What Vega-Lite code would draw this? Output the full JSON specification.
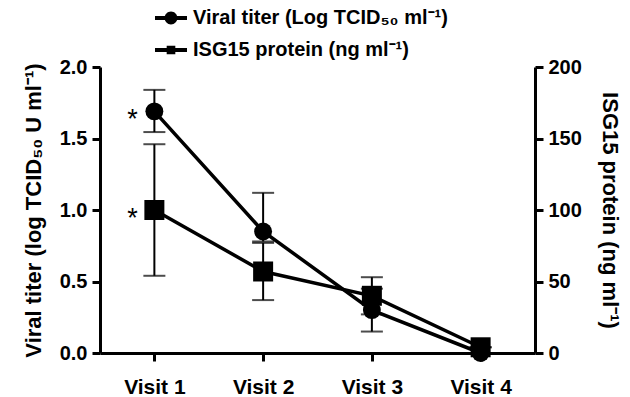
{
  "$schema": "https://vega.github.io/schema/vega-lite/v6.json",
  "width": 435,
  "height": 286,
  "autosize": {"type": "none"},
  "padding": {"left": 100, "top": 67, "right": 95, "bottom": 44},
  "background": "white",
  "config": {
    "view": {"stroke": null},
    "font": "Liberation Sans",
    "axis": {
      "domainColor": "black", "domainWidth": 3, "tickColor": "black", "tickWidth": 3, "tickSize": 8,
      "labelFont": "Liberation Sans", "labelFontWeight": "bold", "labelFontSize": 20, "labelColor": "black",
      "titleFont": "Liberation Sans", "titleFontWeight": "bold", "titleFontSize": 22, "titleColor": "black",
      "grid": false
    }
  },
  "data": {"values": [
    {"visit": "Visit 1", "viral": 1.69, "vlo": 1.545, "vhi": 1.84, "isg": 100, "ilo": 54, "ihi": 146, "star": "*"},
    {"visit": "Visit 2", "viral": 0.85, "vlo": 0.78, "vhi": 1.12, "isg": 57, "ilo": 37, "ihi": 77, "star": ""},
    {"visit": "Visit 3", "viral": 0.30, "vlo": 0.15, "vhi": 0.45, "isg": 40, "ilo": 27, "ihi": 53, "star": ""},
    {"visit": "Visit 4", "viral": 0.0, "vlo": 0.0, "vhi": 0.0, "isg": 4, "ilo": 4, "ihi": 4, "star": ""}
  ]},
  "encoding": {
    "x": {"field": "visit", "type": "ordinal", "scale": {"type": "point", "padding": 0.5},
      "axis": {"title": null, "labelAngle": 0, "labelPadding": 15, "labelFontSize": 21}}
  },
  "layer": [
    {
      "encoding": {"y": {"field": "viral", "type": "quantitative",
        "scale": {"domain": [0, 2]},
        "axis": {"orient": "left", "values": [0, 0.5, 1, 1.5, 2], "format": ".1f", "labelPadding": 5, "titlePadding": 14,
          "title": "Viral titer (log TCID₅₀ U ml⁻¹)"}}},
      "layer": [
        {"mark": {"type": "rule", "color": "black", "strokeWidth": 2}, "encoding": {"y": {"field": "vlo", "type": "quantitative"}, "y2": {"field": "vhi"}}},
        {"mark": {"type": "tick", "color": "black", "size": 22, "thickness": 2}, "encoding": {"y": {"field": "vlo", "type": "quantitative"}}},
        {"mark": {"type": "tick", "color": "black", "size": 22, "thickness": 2}, "encoding": {"y": {"field": "vhi", "type": "quantitative"}}},
        {"mark": {"type": "line", "color": "black", "strokeWidth": 3.5}, "encoding": {}},
        {"mark": {"type": "point", "shape": "circle", "filled": true, "color": "black", "size": 320, "opacity": 1}, "encoding": {}},
        {"mark": {"type": "text", "fontSize": 27, "color": "black", "dx": -22, "dy": 9, "font": "Liberation Sans"}, "encoding": {"text": {"field": "star"}}}
      ]
    },
    {
      "encoding": {"y": {"field": "isg", "type": "quantitative",
        "scale": {"domain": [0, 200]},
        "axis": {"orient": "right", "values": [0, 50, 100, 150, 200], "labelPadding": 5, "titlePadding": 16,
          "title": "ISG15 protein (ng ml⁻¹)"}}},
      "layer": [
        {"mark": {"type": "rule", "color": "black", "strokeWidth": 2}, "encoding": {"y": {"field": "ilo", "type": "quantitative"}, "y2": {"field": "ihi"}}},
        {"mark": {"type": "tick", "color": "black", "size": 22, "thickness": 2}, "encoding": {"y": {"field": "ilo", "type": "quantitative"}}},
        {"mark": {"type": "tick", "color": "black", "size": 22, "thickness": 2}, "encoding": {"y": {"field": "ihi", "type": "quantitative"}}},
        {"mark": {"type": "line", "color": "black", "strokeWidth": 3.5}, "encoding": {}},
        {"mark": {"type": "point", "shape": "square", "filled": true, "color": "black", "size": 400, "opacity": 1}, "encoding": {}},
        {"mark": {"type": "text", "fontSize": 27, "color": "black", "dx": -22, "dy": 9, "font": "Liberation Sans"}, "encoding": {"text": {"field": "star"}}},
        {
          "transform": [{"filter": "datum.isg < -1000"}],
          "mark": {"type": "point", "filled": true, "color": "black", "size": 1024, "opacity": 1},
          "encoding": {
            "shape": {"field": "series", "type": "nominal",
              "scale": {"domain": ["Viral titer (Log TCID₅₀ ml⁻¹)", "ISG15 protein (ng ml⁻¹)"],
                "range": ["M-1,-0.12H1V0.12H-1ZM-0.4,0A0.4,0.4 0 1,1 0.4,0A0.4,0.4 0 1,1 -0.4,0Z", "M-1,-0.12H1V0.12H-1ZM-0.27,-0.27H0.27V0.27H-0.27Z"]},
              "legend": {"title": null, "orient": "none", "legendX": 55, "legendY": -65, "direction": "vertical",
                "labelFont": "Liberation Sans", "labelFontWeight": "bold", "labelFontSize": 20, "labelColor": "black",
                "symbolFillColor": "black", "symbolStrokeWidth": 0, "symbolSize": 1024,
                "symbolOpacity": 1, "rowPadding": 6, "labelOffset": 6, "labelLimit": 400}}
          }
        }
      ]
    }
  ],
  "resolve": {"scale": {"y": "independent", "shape": "independent"}}
}
